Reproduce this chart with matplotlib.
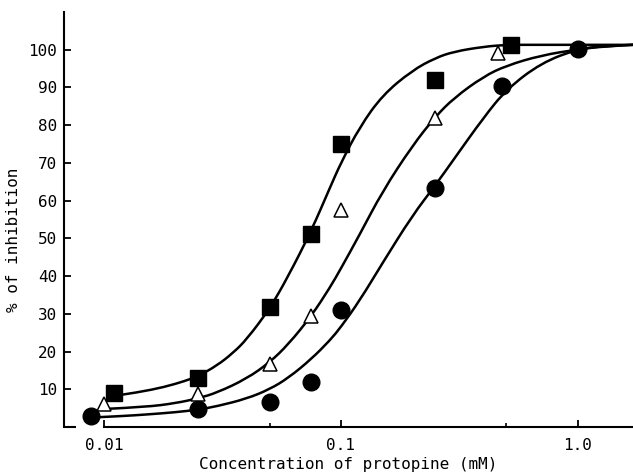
import matplotlib
matplotlib.use("Agg")
import matplotlib.pyplot as plt
import numpy as np
from matplotlib.path import Path
from matplotlib.patches import PathPatch
from matplotlib.ticker import FixedLocator, NullFormatter

sq_x = [0.011, 0.025, 0.05, 0.075, 0.1, 0.25, 0.52]
sq_y = [9.0, 13.0, 31.8, 51.2, 75.0, 92.0, 101.3]

tri_x = [0.01, 0.025, 0.05, 0.075, 0.1, 0.25, 0.46]
tri_y = [6.0, 8.8, 16.7, 29.4, 57.5, 82.0, 99.2]

circ_x = [0.0088, 0.025, 0.05, 0.075, 0.1, 0.25, 0.48, 1.0]
circ_y = [3.0, 4.8, 6.6, 12.0, 31.0, 63.4, 90.5, 100.3]

# fitted curves
sq_fit_x = [0.0112, 0.014, 0.018, 0.022, 0.025, 0.03, 0.035, 0.04, 0.05, 0.06,
            0.075, 0.09, 0.1, 0.12, 0.15, 0.2, 0.25, 0.3, 0.4, 0.5, 0.7, 1.0, 1.71]
sq_fit_y = [8.3, 9.2, 10.6, 12.2, 13.5, 16.3, 19.6, 23.2, 31.3, 40.0,
            52.0, 63.5, 70.0, 79.5, 88.0, 94.5, 97.8, 99.5, 100.8, 101.3, 101.3, 101.3, 101.3]

tri_fit_x = [0.0102, 0.015, 0.02, 0.025, 0.03, 0.04, 0.05, 0.06, 0.075, 0.09,
             0.1, 0.12, 0.15, 0.2, 0.25, 0.3, 0.4, 0.5, 0.7, 1.0, 1.3, 1.71]
tri_fit_y = [4.8, 5.3, 6.3, 7.6, 9.1, 12.8, 17.1, 21.9, 29.4, 37.0,
             42.0, 51.0, 62.5, 74.5, 82.2, 87.2, 92.9, 95.8, 98.5, 100.1, 100.9, 101.3]

circ_fit_x = [0.0088, 0.012, 0.015, 0.02, 0.025, 0.03, 0.04, 0.05, 0.06, 0.075,
              0.09, 0.1, 0.12, 0.15, 0.2, 0.25, 0.3, 0.4, 0.5, 0.7, 1.0, 1.3, 1.71]
circ_fit_y = [2.5, 2.9, 3.3, 3.9, 4.6, 5.5, 7.5, 10.0, 13.0, 18.0,
              23.0, 26.5, 33.5, 43.5, 56.0, 64.0, 71.0, 82.0, 89.5, 96.5, 100.2, 101.0, 101.3]

x_major = [0.01, 0.1, 1.0]
x_major_labels = ["0.01", "0.1", "1.0"]
x_minor = [0.05, 0.5]
y_ticks = [10, 20, 30, 40, 50, 60, 70, 80, 90, 100]


def smooth_path(xs, ys):
    """Quadratic-bezier path through the traced points (midpoints on curve,
    traced points as control points), midpoints taken in log-x space."""
    lx = np.log10(xs)
    ys = np.asarray(ys, dtype=float)
    verts = [(xs[0], ys[0])]
    codes = [Path.MOVETO]
    n = len(xs)
    for i in range(1, n - 1):
        mx = 10 ** ((lx[i] + lx[i + 1]) / 2)
        my = (ys[i] + ys[i + 1]) / 2
        end = (xs[i + 1], ys[i + 1]) if i == n - 2 else (mx, my)
        verts += [(xs[i], ys[i]), end]
        codes += [Path.CURVE3, Path.CURVE3]
    return Path(verts, codes)


plt.rcParams["font.family"] = ["DejaVu Sans Mono", "DejaVu Sans"]

fig = plt.figure(figsize=(6.33, 4.75), dpi=100)
ax = fig.add_axes([64 / 633, 48 / 475, 569 / 633, 415 / 475])
ax.set_xscale("log")
ax.set_xlim(0.00678, 1.71)
ax.set_ylim(0, 110)

lw = 1.8
for fx, fy in [(sq_fit_x, sq_fit_y), (tri_fit_x, tri_fit_y), (circ_fit_x, circ_fit_y)]:
    ax.add_patch(PathPatch(smooth_path(fx, fy), fill=False, edgecolor="black",
                           lw=lw, capstyle="round", zorder=2))

ax.plot(sq_x, sq_y, "s", ms=12, color="black", zorder=3, clip_on=False)
ax.plot(tri_x, tri_y, "^", ms=10, mfc="white", mec="black", mew=1.1, zorder=4, clip_on=False)
ax.plot(circ_x, circ_y, "o", ms=12, color="black", zorder=3, clip_on=False)

for side in ("top", "right"):
    ax.spines[side].set_visible(False)
for side in ("left", "bottom"):
    ax.spines[side].set_linewidth(1.5)
ax.spines["bottom"].set_bounds(0.01, 1.71)
# little foot at the bottom of the y axis
ax.hlines(0, 0.00678, 0.0076, color="black", lw=1.5, clip_on=False)

ax.xaxis.set_major_locator(FixedLocator(x_major))
ax.set_xticklabels(x_major_labels)
ax.xaxis.set_minor_locator(FixedLocator(x_minor))
ax.xaxis.set_minor_formatter(NullFormatter())
ax.set_yticks(y_ticks)

ax.tick_params(axis="both", which="major", direction="in", length=5, width=1.3,
               labelsize=11.5, colors="black")
ax.tick_params(axis="x", which="major", pad=8)
ax.tick_params(axis="y", which="major", pad=5)
ax.tick_params(axis="x", which="minor", direction="in", length=3, width=1.2)

ax.set_xlabel("Concentration of protopine (mM)", fontsize=11.5, labelpad=3)
ax.set_ylabel("% of inhibition", fontsize=11.5)
ax.yaxis.set_label_coords(-0.075, 0.45)

fig.savefig("out.png", dpi=100)
